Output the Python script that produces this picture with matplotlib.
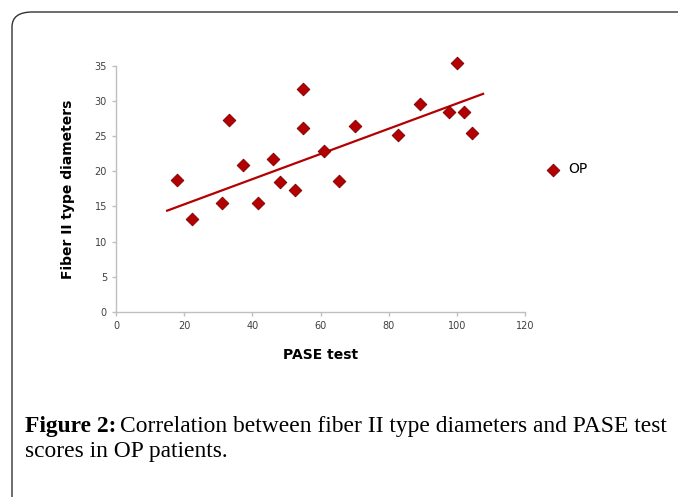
import matplotlib.pyplot as plt
from matplotlib.patches import FancyBboxPatch

# PASE test score vs fiber II type diameter, OP group
pase = [18.0, 22.4, 31.1, 33.1, 37.3, 41.7, 46.1, 48.2, 52.6, 54.8,
        54.8, 61.0, 65.5, 70.1, 82.6, 89.1, 97.8, 100.0, 102.0, 104.4]
fiber2 = [18.8, 13.2, 15.5, 27.3, 20.9, 15.5, 21.8, 18.5, 17.3, 31.7,
          26.2, 22.9, 18.6, 26.5, 25.1, 29.5, 28.4, 35.4, 28.4, 25.4]
# linear trendline ends as drawn in the source chart
trend_x = [15.0, 107.7]
trend_y = [14.4, 31.0]
xticks = [0, 20, 40, 60, 80, 100, 120]
yticks = [0, 5, 10, 15, 20, 25, 30, 35]

red = "#b40000"
grey = "#bfbfbf"
W, H = 678, 497

fig = plt.figure(figsize=(W / 100, H / 100), dpi=100)

# rounded frame around the figure panel
frame = FancyBboxPatch((12 / W, -0.2), 1.2, (H - 12) / H + 0.2,
                       boxstyle="round,pad=0,rounding_size=0.03",
                       transform=fig.transFigure, fill=False,
                       edgecolor="#333333", linewidth=1.0)
fig.patches.append(frame)

ax = fig.add_axes([116 / W, 1 - 312 / H, (525 - 116) / W, (312 - 65.7) / H])

ax.scatter(pase, fiber2, marker="D", s=42, color=red, edgecolors="#7a0000",
           linewidths=0.6, zorder=3, label="OP", clip_on=False)
ax.plot(trend_x, trend_y, color=red, linewidth=1.6, zorder=2)

ax.set_xlim(0, 120)
ax.set_ylim(0, 35)
ax.set_xticks(xticks)
ax.set_yticks(yticks)
for s in ["top", "right"]:
    ax.spines[s].set_visible(False)
for s in ["left", "bottom"]:
    ax.spines[s].set_color(grey)
    ax.spines[s].set_linewidth(1.0)
ax.tick_params(colors=grey, labelcolor="#404040", labelsize=7, length=3, width=1)

ax.set_xlabel("PASE test", fontsize=10, fontweight="bold", labelpad=12)
ax.set_ylabel("Fiber II type diameters", fontsize=10, fontweight="bold", labelpad=14)

ax.legend(loc="center left", bbox_to_anchor=(1.02, 0.58), frameon=False,
          fontsize=10, handletextpad=0.1, borderaxespad=0)

# caption: bold lead-in then the sentence, sized to the reference width
serif = "Liberation Serif"
line1 = "Correlation between fiber II type diameters and PASE test"
probe = fig.text(0, 0, line1, fontsize=13, family=serif)
fig.canvas.draw()
r = fig.canvas.get_renderer()
size = 13 * 545 / probe.get_window_extent(r).width
probe.remove()

y1 = 1 - 432 / H
t1 = fig.text(25 / W, y1, "Figure 2:", fontsize=size, family=serif, fontweight="bold")
bb = t1.get_window_extent(r)
fig.text((bb.x1 + 4) / W, y1, line1, fontsize=size, family=serif)
fig.text(25 / W, 1 - 457 / H, "scores in OP patients.", fontsize=size, family=serif)

fig.savefig("out.png", dpi=100)
